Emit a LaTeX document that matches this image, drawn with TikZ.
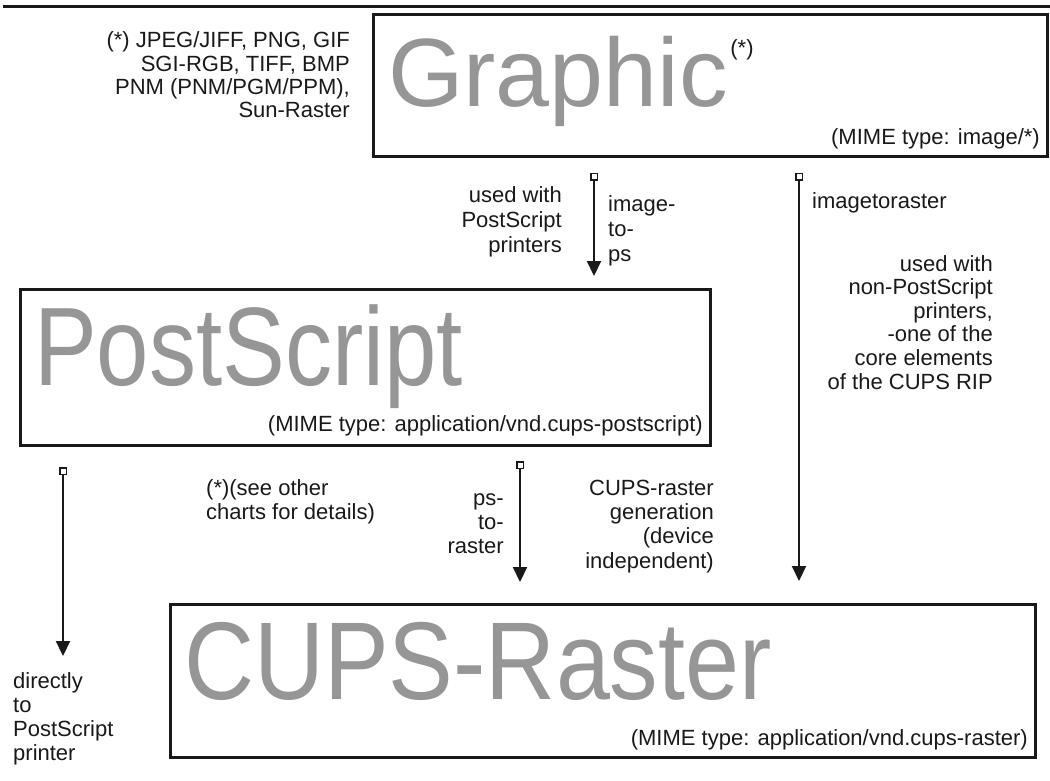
\documentclass[tikz,border=0pt]{standalone}
\usepackage{fontspec}
\usepackage{graphicx}
\setmainfont{Liberation Sans}
\usetikzlibrary{arrows.meta}
\definecolor{bigtext}{RGB}{150,150,150}
\definecolor{ink}{RGB}{25,25,25}
\begin{document}
\begin{tikzpicture}[x=1pt,y=-1pt,
  box/.style={draw=ink,line width=3pt},
  bigword/.style={inner sep=0pt,anchor=base west,text=bigtext,font=\fontsize{97}{100}\selectfont},
  lbl/.style={inner sep=0pt,text=ink,font=\fontsize{22}{25}\selectfont},
  flow/.style={draw=ink,line width=2.2pt,{Square[open,length=8pt,width=8pt,line width=1.5pt]}-{Triangle[length=15pt,width=14pt]}}
]
\useasboundingbox (0,0) rectangle (1050,781);
% top rule
\draw[draw=ink,line width=3pt] (3,7) -- (1050,7);
% boxes
\draw[box] (373,15) rectangle (1047,157);
\draw[box] (20,289) rectangle (710,445);
\draw[box] (170,604) rectangle (1035,757);
% big words
\node[bigword] (graphic) at (388,107) {Graphic};
\node[lbl] (star) at (742,50) {(*)};
\node[lbl,anchor=base east] (mimeimg) at (1040,145) {(MIME type: image/*)};
\node[bigword] (postscript) at (34,385) {\scalebox{0.97}[1.15]{PostScript}};
\node[lbl,anchor=base east] (mimeps) at (703,431) {(MIME type: application/vnd.cups-postscript)};
\node[bigword] (cupsraster) at (184,699) {\scalebox{1}[1.14]{CUPS-Raster}};
\node[lbl,anchor=base east] (mimecr) at (1028,745) {(MIME type: application/vnd.cups-raster)};
% left formats (anchor = baseline of last line)
\node[lbl,align=right,anchor=base east,font=\fontsize{22}{23.5}\selectfont] (formats) at (350,118)
  {(*) JPEG/JIFF, PNG, GIF\\SGI-RGB, TIFF, BMP\\PNM (PNM/PGM/PPM),\\Sun-Raster};
% arrows
\coordinate (a1s) at (594,173);
\coordinate (a1e) at (594,276);
\coordinate (a2s) at (799,173);
\coordinate (a2e) at (799,581);
\coordinate (a3s) at (63,467);
\coordinate (a3e) at (63,656);
\coordinate (a4s) at (520,461);
\coordinate (a4e) at (520,582);
\draw[flow] (a1s) -- (a1e);
\draw[flow] (a2s) -- (a2e);
\draw[flow] (a3s) -- (a3e);
\draw[flow] (a4s) -- (a4e);
% labels
\node[lbl,align=right,anchor=base east] (usedps) at (562,252) {used with\\PostScript\\printers};
\node[lbl,align=left,anchor=base west] (imagetops) at (608,261) {image-\\to-\\ps};
\node[lbl,anchor=base west] (imagetoraster) at (812,208) {imagetoraster};
\node[lbl,align=right,anchor=base east,font=\fontsize{22}{23.6}\selectfont] (usednonps) at (993,389)
  {used with\\non-PostScript\\printers,\\-one of the\\core elements\\of the CUPS RIP};
\node[lbl,align=left,anchor=base west,font=\fontsize{22}{24}\selectfont] (direct) at (13,760) {directly\\to\\PostScript\\printer};
\node[lbl,align=left,anchor=base west,font=\fontsize{22}{23.5}\selectfont] (seeother) at (206,519) {(*)(see other\\charts for details)};
\node[lbl,align=right,anchor=base east,font=\fontsize{22}{24}\selectfont] (pstoraster) at (504,553) {ps-\\to-\\raster};
\node[lbl,align=right,anchor=base east,font=\fontsize{22}{24.3}\selectfont] (cupsgen) at (714,568) {CUPS-raster\\generation\\(device\\independent)};
\end{tikzpicture}
\end{document}
